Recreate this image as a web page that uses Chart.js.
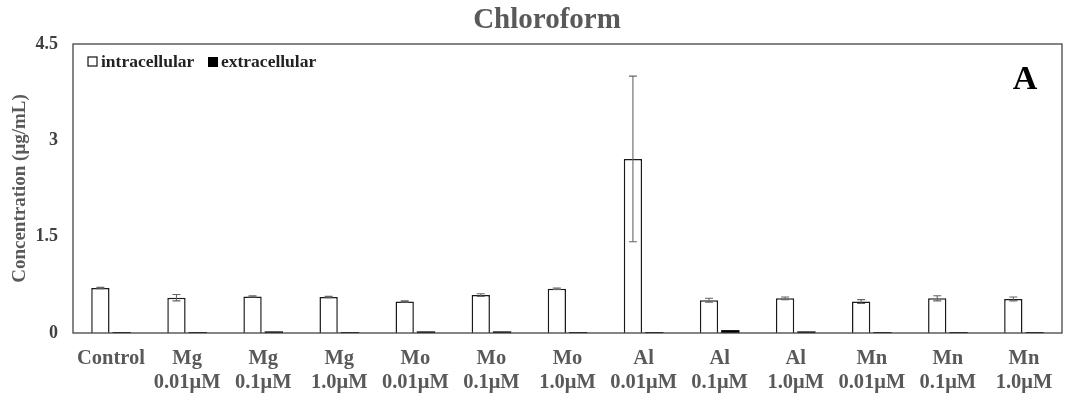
<!DOCTYPE html>
<html>
<head>
<meta charset="utf-8">
<script src="https://cdn.jsdelivr.net/npm/chart.js@4/dist/chart.umd.min.js"></script>
<style>
  html, body { margin: 0; padding: 0; background: #fff; }
  #wrap { width: 1086px; height: 396px; position: relative; }
</style>
</head>
<body>
<div id="wrap"><canvas id="c"></canvas></div>
<script>
// Treatment groups (two-line axis labels)
const categories = [
  ["Control"],
  ["Mg", "0.01μM"], ["Mg", "0.1μM"], ["Mg", "1.0μM"],
  ["Mo", "0.01μM"], ["Mo", "0.1μM"], ["Mo", "1.0μM"],
  ["Al", "0.01μM"], ["Al", "0.1μM"], ["Al", "1.0μM"],
  ["Mn", "0.01μM"], ["Mn", "0.1μM"], ["Mn", "1.0μM"]
];

// Concentration (μg/mL)
const intracellular    = [0.70, 0.55, 0.57, 0.56, 0.49, 0.59, 0.69, 2.71, 0.51, 0.54, 0.49, 0.54, 0.53];
const intracellularErr = [0.01, 0.05, 0.01, 0.01, 0.01, 0.02, 0.01, 1.29, 0.03, 0.02, 0.03, 0.04, 0.03];
const extracellular    = [0.015, 0.015, 0.025, 0.015, 0.025, 0.025, 0.015, 0.015, 0.045, 0.025, 0.015, 0.015, 0.015];
const extracellularErr = [0, 0, 0, 0, 0, 0, 0, 0, 0, 0, 0, 0, 0];

const yTicks = [0, 1.5, 3, 4.5];

const SERIF = "'Liberation Serif', 'Times New Roman', serif";
const GREY = "#595959";

// Error bars for every dataset that carries an "errors" array
const errorBars = {
  id: "errorBars",
  afterDatasetsDraw(chart) {
    const ctx = chart.ctx;
    const y = chart.scales.y;
    ctx.save();
    ctx.strokeStyle = "#666";
    ctx.lineWidth = 1.1;
    chart.data.datasets.forEach((ds, di) => {
      if (!ds.errors) return;
      const meta = chart.getDatasetMeta(di);
      meta.data.forEach((bar, i) => {
        const e = ds.errors[i];
        if (!e) return;
        const v = ds.data[i];
        const yTop = y.getPixelForValue(v + e);
        const yBot = y.getPixelForValue(v - e);
        const x = bar.x;
        const cap = 4;
        ctx.beginPath();
        ctx.moveTo(x, yTop); ctx.lineTo(x, yBot);
        ctx.moveTo(x - cap, yTop); ctx.lineTo(x + cap, yTop);
        ctx.moveTo(x - cap, yBot); ctx.lineTo(x + cap, yBot);
        ctx.stroke();
      });
    });
    ctx.restore();
  }
};

// Frame, title, in-plot legend and panel letter
const decorations = {
  id: "decorations",
  afterDraw(chart) {
    const ctx = chart.ctx;
    const a = chart.chartArea;
    ctx.save();
    // plot frame
    ctx.strokeStyle = "#444";
    ctx.lineWidth = 1.3;
    ctx.strokeRect(a.left, a.top, a.right - a.left, a.bottom - a.top);

    // title
    ctx.fillStyle = GREY;
    ctx.font = "bold 29px " + SERIF;
    ctx.textAlign = "center";
    ctx.textBaseline = "alphabetic";
    ctx.fillText("Chloroform", 547, 28);

    // legend
    ctx.font = "bold 17.5px " + SERIF;
    ctx.textAlign = "left";
    ctx.textBaseline = "middle";
    const ly = 62;
    ctx.lineWidth = 1.2;
    ctx.strokeStyle = "#111";
    ctx.fillStyle = "#fff";
    ctx.fillRect(88, ly - 5, 9, 9);
    ctx.strokeRect(88, ly - 5, 9, 9);
    ctx.fillStyle = "#222";
    ctx.fillText("intracellular", 101, ly);
    ctx.fillStyle = "#000";
    ctx.fillRect(208, ly - 5, 10, 10);
    ctx.fillStyle = "#222";
    ctx.fillText("extracellular", 221, ly);

    // panel letter
    ctx.fillStyle = "#000";
    ctx.font = "bold 34px " + SERIF;
    ctx.textAlign = "center";
    ctx.textBaseline = "alphabetic";
    ctx.fillText("A", 1025, 89);
    ctx.restore();
  }
};

new Chart(document.getElementById("c"), {
  type: "bar",
  data: {
    labels: categories,
    datasets: [
      {
        label: "intracellular",
        data: intracellular,
        errors: intracellularErr,
        backgroundColor: "#fff",
        borderColor: "#1a1a1a",
        borderWidth: 1.5,
        categoryPercentage: 0.56,
        barPercentage: 0.86
      },
      {
        label: "extracellular",
        data: extracellular,
        errors: extracellularErr,
        backgroundColor: "#000",
        borderColor: "#000",
        borderWidth: 0,
        categoryPercentage: 0.56,
        barPercentage: 0.86
      }
    ]
  },
  options: {
    responsive: true,
    maintainAspectRatio: false,
    animation: false,
    layout: { padding: { top: 44, right: 24, left: 0, bottom: 0 } },
    plugins: {
      legend: { display: false },
      title: { display: false },
      tooltip: { enabled: false }
    },
    scales: {
      x: {
        grid: { display: false, drawTicks: false },
        border: { display: false },
        ticks: {
          color: GREY,
          font: { family: SERIF, size: 20.5, weight: "bold", lineHeight: 1.17 },
          padding: 14,
          maxRotation: 0,
          autoSkip: false
        },
        afterFit(scale) { scale.height = 63; }
      },
      y: {
        min: 0,
        max: 4.5,
        afterBuildTicks(scale) { scale.ticks = yTicks.map(v => ({ value: v })); },
        grid: { display: false, drawTicks: false },
        border: { display: false },
        ticks: {
          color: "#404040",
          font: { family: SERIF, size: 18, weight: "bold" },
          padding: 15,
          callback: v => String(v)
        },
        title: {
          display: true,
          text: "Concentration (μg/mL)",
          color: GREY,
          font: { family: SERIF, size: 19, weight: "bold" },
          padding: { top: 9, bottom: 0 }
        },
        afterFit(scale) { scale.width = 73; }
      }
    }
  },
  plugins: [errorBars, decorations]
});
</script>
</body>
</html>
